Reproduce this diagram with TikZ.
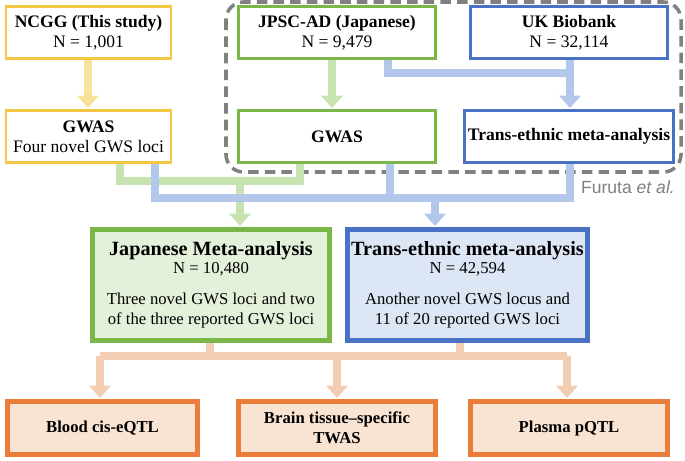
\documentclass[tikz,border=0pt]{standalone}
\usepackage{fontspec}
\setmainfont{Liberation Serif}
\newfontfamily\sansf{Liberation Sans}
\usetikzlibrary{arrows.meta}
\definecolor{cYel}{HTML}{F2C744}
\definecolor{cGrn}{HTML}{7AB648}
\definecolor{cBlu}{HTML}{4A72C4}
\definecolor{cOra}{HTML}{EA7D3A}
\definecolor{lYel}{HTML}{F7E49A}
\definecolor{lGrn}{HTML}{C7E3B0}
\definecolor{lBlu}{HTML}{B3C7EA}
\definecolor{lOra}{HTML}{F3CDB2}
\definecolor{fGrn}{HTML}{E4F1DA}
\definecolor{fBlu}{HTML}{DDE6F4}
\definecolor{fOra}{HTML}{F9E3D3}
\tikzset{
  box/.style={draw, line width=1.6pt, inner sep=2pt, align=center, text=black, font=\fontsize{10}{11.5}\selectfont},
  big/.style={box, line width=2.6pt, font=\fontsize{9.5}{11.5}\selectfont},
  link/.style={line width=4pt},
  tip/.style={-{Triangle[length=7pt,width=12pt]}},
}
\begin{document}
\begin{tikzpicture}[x=0.02cm,y=-0.02cm]
  \useasboundingbox (0,0) rectangle (685,460);
  % Furuta group
  \draw[gray, line width=2pt, dash pattern=on 6pt off 3.5pt, rounded corners=10pt] (226,2) rectangle (681,172);
  \node[gray, font=\sansf\fontsize{10}{12}\selectfont, anchor=east] (furuta) at (681,187) {Furuta \textit{et al.}};

  % connectors (drawn first, boxes on top)
  % top row
  \draw[link, lYel, tip] (88,60) -- (88,108);
  \draw[link, lGrn, tip] (332,60) -- (332,108);
  \draw[link, lBlu] (388,60) -- (388,73) -- (570,73);
  \draw[link, lBlu, tip] (570,60) -- (570,108);
  % to Japanese meta
  \draw[link, lGrn] (120,163) -- (120,181) -- (300,181) -- (300,163);
  \draw[link, lGrn, tip] (240,181) -- (240,226);
  % to trans-ethnic meta
  \draw[link, lBlu] (155,163) -- (155,198) -- (570,198) -- (570,163);
  \draw[link, lBlu] (390,163) -- (390,198);
  \draw[link, lBlu, tip] (435,198) -- (435,226);
  % to bottom row
  \draw[link, lOra] (210,342) -- (210,356);
  \draw[link, lOra] (460,342) -- (460,356);
  \draw[link, lOra] (100,356) -- (567,356);
  \draw[link, lOra, tip] (100,356) -- (100,398);
  \draw[link, lOra, tip] (337,356) -- (337,398);
  \draw[link, lOra, tip] (567,356) -- (567,398);

  % top boxes
  \node[box, draw=cYel, fill=white, minimum width=3.3cm, minimum height=1.05cm] (ncgg) at (88.5,32.5)
    {\textbf{NCGG (This study)}\\N = 1,001};
  \node[box, draw=cGrn, fill=white, minimum width=3.95cm, minimum height=1.05cm] (jpsc) at (337,32.5)
    {\textbf{JPSC-AD (Japanese)}\\N = 9,479};
  \node[box, draw=cBlu, fill=white, minimum width=3.95cm, minimum height=1.05cm] (ukb) at (569,32.5)
    {\textbf{UK Biobank}\\N = 32,114};
  \node[box, draw=cYel, fill=white, minimum width=3.3cm, minimum height=1.05cm] (gwasA) at (88.5,136.5)
    {\textbf{GWAS}\\Four novel GWS loci};
  \node[box, draw=cGrn, fill=white, minimum width=3.95cm, minimum height=1.05cm] (gwasB) at (337,136.5)
    {\textbf{GWAS}};
  \node[box, draw=cBlu, fill=white, minimum width=3.95cm, minimum height=1.05cm] (trans) at (569,136.5)
    {\textbf{Trans-ethnic meta-analysis}};

  % meta-analysis boxes
  \node[big, draw=cGrn, fill=fGrn, minimum width=4.75cm, minimum height=2.22cm] (jpmeta) at (211,285)
    {{\fontsize{11.5}{13}\selectfont\textbf{Japanese Meta-analysis}}\\[-1pt]
     N = 10,480\\[6pt]
     Three novel GWS loci and two\\of the three reported GWS loci};
  \node[big, draw=cBlu, fill=fBlu, minimum width=4.8cm, minimum height=2.22cm] (trmeta) at (467.5,285)
    {{\fontsize{11.5}{13}\selectfont\textbf{Trans-ethnic meta-analysis}}\\[-1pt]
     N = 42,594\\[6pt]
     Another novel GWS locus and\\11 of 20 reported GWS loci};

  % bottom boxes
  \node[big, draw=cOra, fill=fOra, minimum width=3.8cm, minimum height=1.05cm] (blood) at (102.5,428)
    {\textbf{Blood cis-eQTL}};
  \node[big, draw=cOra, fill=fOra, minimum width=3.95cm, minimum height=1.05cm] (brain) at (337,428)
    {\textbf{Brain tissue--specific}\\\textbf{TWAS}};
  \node[big, draw=cOra, fill=fOra, minimum width=3.95cm, minimum height=1.05cm] (plasma) at (569,428)
    {\textbf{Plasma pQTL}};
\end{tikzpicture}
\end{document}
